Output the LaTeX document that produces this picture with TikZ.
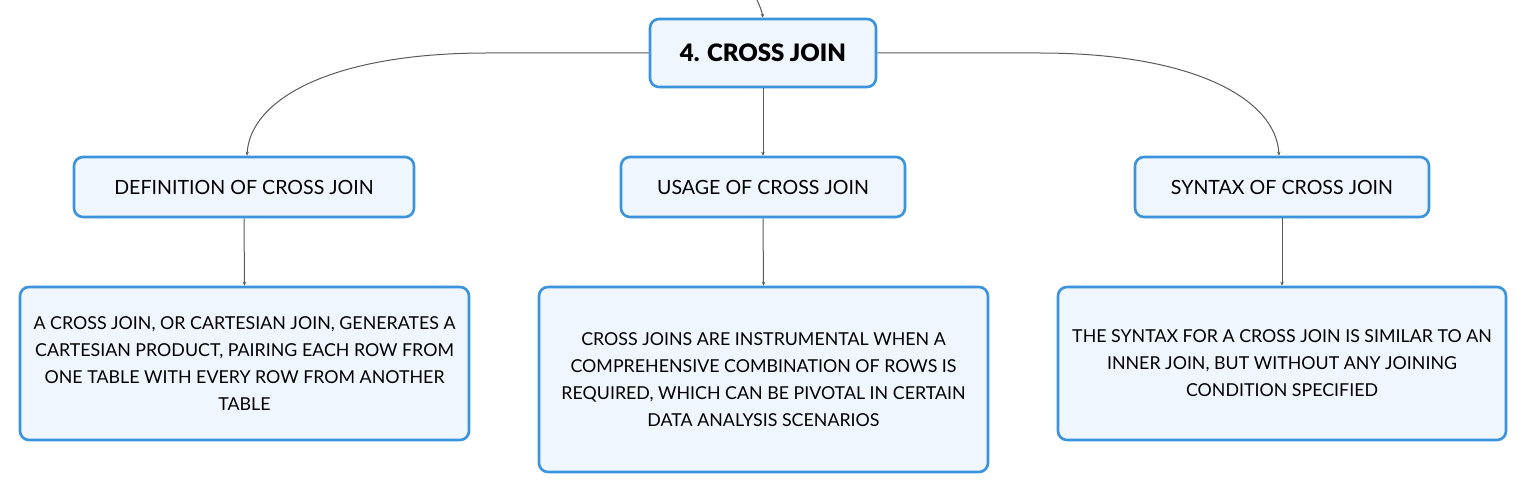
\documentclass[tikz,border=0pt]{standalone}
\usepackage{fontspec}
\setmainfont{Lato}
\newfontfamily\heavyfont{Lato Black}
\usetikzlibrary{arrows.meta}
\definecolor{bordblue}{HTML}{3A93DC}
\definecolor{boxfill}{HTML}{EFF6FD}
\definecolor{linegray}{HTML}{5A5A5A}
\tikzset{
  box/.style={draw=bordblue, line width=2.6pt, fill=boxfill, rounded corners=9pt,
    align=center, inner sep=0pt, font=\fontsize{17.8}{27}\selectfont},
  midbox/.style={box, minimum height=60pt, font=\fontsize{19.6}{24}\selectfont},
  conn/.style={draw=linegray, line width=1pt, -{Stealth[length=4pt,width=3.5pt]}},
}
\begin{document}
\begin{tikzpicture}[x=1pt,y=-1pt]
\useasboundingbox (0,0) rectangle (1527,494);
\node[box, minimum width=226pt, minimum height=68pt, font=\fontsize{24}{28}\heavyfont] (top) at (763,53) {4. CROSS JOIN};
\node[midbox, minimum width=340pt] (def) at (244,187) {DEFINITION OF CROSS JOIN};
\node[midbox, minimum width=284pt] (use) at (763,187) {USAGE OF CROSS JOIN};
\node[midbox, minimum width=294pt] (syn) at (1282,187) {SYNTAX OF CROSS JOIN};
\node[box, minimum width=449pt, minimum height=153pt] (defd) at (244.5,363.5) {A CROSS JOIN, OR CARTESIAN JOIN, GENERATES A\\CARTESIAN PRODUCT, PAIRING EACH ROW FROM\\ONE TABLE WITH EVERY ROW FROM ANOTHER\\TABLE};
\node[box, minimum width=449pt, minimum height=185pt] (used) at (763.5,379.5) {CROSS JOINS ARE INSTRUMENTAL WHEN A\\COMPREHENSIVE COMBINATION OF ROWS IS\\REQUIRED, WHICH CAN BE PIVOTAL IN CERTAIN\\DATA ANALYSIS SCENARIOS};
\node[box, minimum width=448pt, minimum height=153pt] (synd) at (1282,363.5) {THE SYNTAX FOR A CROSS JOIN IS SIMILAR TO AN\\INNER JOIN, BUT WITHOUT ANY JOINING\\CONDITION SPECIFIED};
\coordinate (in) at (756,-2);
\draw[conn] (in) .. controls (760,6) and (762,12) .. (top.north);
\draw[conn] (top.west) -- (487,53) .. controls (330,53) and (250,100) .. ([xshift=3pt]def.north);
\draw[conn] (top.east) -- (1039,53) .. controls (1196,53) and (1276,100) .. ([xshift=-3pt]syn.north);
\draw[conn] (top.south) -- (use.north);
\draw[conn] (def.south) -- (defd.north);
\draw[conn] (use.south) -- (used.north);
\draw[conn] (syn.south) -- (synd.north);
\end{tikzpicture}
\end{document}
